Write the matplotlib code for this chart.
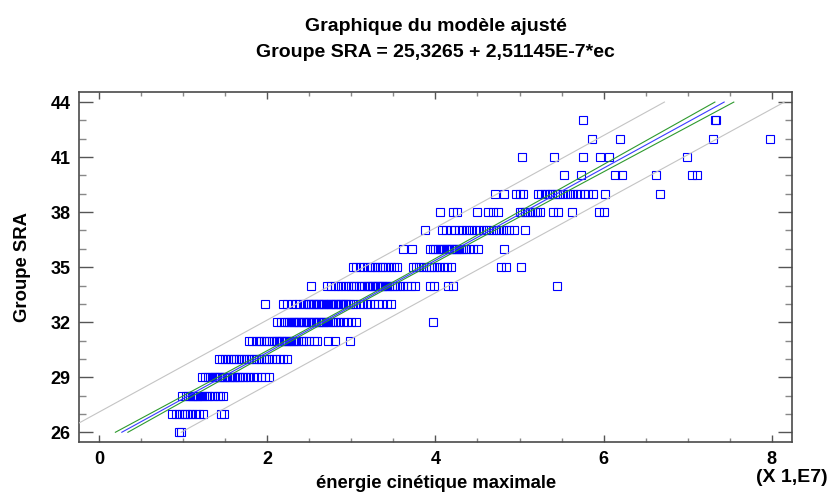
import matplotlib
matplotlib.use("Agg")
import numpy as np
import matplotlib.pyplot as plt
from matplotlib.ticker import MultipleLocator

plt.rcParams['font.family'] = ['Liberation Sans', 'DejaVu Sans']

# Fitted model (energy in J, scaled by 1e7 on the axis)
intercept = 25.3265
slope = 2.51145E-7
x_scale = 1e7

# Regression statistics used for the confidence / prediction limits
t_crit = 1.965
s_res = 0.90
n_fit = 500
x_mean = 3.02
sxx = 824.0

# Observed kinetic energy (x 1e7) for each SRA group value
energie_26 = [0.95, 0.97]
energie_27 = [0.87, 0.91, 0.95, 0.98, 1.02, 1.05, 1.08, 1.11, 1.15, 1.19, 1.24, 1.45, 1.49]
energie_28 = [0.99, 1.03, 1.06, 1.08, 1.10, 1.12, 1.14, 1.16, 1.18, 1.20, 1.22, 1.25,
              1.28, 1.31, 1.34, 1.37, 1.41, 1.44, 1.47]
energie_29 = [1.22, 1.26, 1.30, 1.32, 1.34, 1.36, 1.38, 1.40, 1.42, 1.44, 1.46, 1.48,
              1.50, 1.52, 1.54, 1.56, 1.58, 1.60, 1.62, 1.64, 1.66, 1.68, 1.71, 1.74,
              1.77, 1.80, 1.84, 1.88, 1.92, 1.97, 2.02]
energie_30 = [1.42, 1.46, 1.50, 1.53, 1.57, 1.60, 1.63, 1.66, 1.69, 1.72, 1.75, 1.78,
              1.81, 1.84, 1.87, 1.90, 1.93, 1.96, 1.99, 2.02, 2.06, 2.10, 2.15, 2.19, 2.23]
energie_31 = [1.78, 1.82, 1.86, 1.90, 1.93, 1.96, 1.99, 2.02, 2.05, 2.08, 2.10, 2.12,
              2.14, 2.16, 2.18, 2.20, 2.22, 2.24, 2.26, 2.28, 2.30, 2.32, 2.34, 2.37,
              2.40, 2.43, 2.46, 2.50, 2.55, 2.59, 2.72, 2.80, 2.98]
energie_32 = [2.12, 2.16, 2.20, 2.23, 2.26, 2.28, 2.30, 2.32, 2.34, 2.36, 2.38, 2.40,
              2.42, 2.44, 2.46, 2.48, 2.50, 2.52, 2.54, 2.56, 2.58, 2.60, 2.62, 2.64,
              2.66, 2.68, 2.70, 2.72, 2.75, 2.78, 2.81, 2.84, 2.87, 2.91, 2.95, 3.00,
              3.05, 3.97]
energie_33 = [1.97, 2.19, 2.24, 2.29, 2.34, 2.38, 2.42, 2.45, 2.48, 2.50, 2.52, 2.54,
              2.56, 2.58, 2.60, 2.62, 2.64, 2.66, 2.68, 2.70, 2.72, 2.74, 2.76, 2.78,
              2.80, 2.82, 2.84, 2.86, 2.88, 2.90, 2.92, 2.94, 2.96, 2.98, 3.02, 3.06,
              3.10, 3.14, 3.18, 3.22, 3.27, 3.32, 3.37, 3.42, 3.47]
energie_34 = [2.52, 2.71, 2.76, 2.80, 2.84, 2.88, 2.92, 2.96, 3.00, 3.03, 3.06, 3.09,
              3.12, 3.15, 3.18, 3.20, 3.22, 3.24, 3.26, 3.28, 3.30, 3.32, 3.34, 3.36,
              3.38, 3.40, 3.42, 3.45, 3.48, 3.51, 3.54, 3.58, 3.62, 3.66, 3.71, 3.76,
              3.93, 3.98, 4.15, 4.21, 5.45]
energie_35 = [3.02, 3.06, 3.10, 3.14, 3.18, 3.22, 3.25, 3.28, 3.31, 3.34, 3.37, 3.40,
              3.43, 3.47, 3.51, 3.54, 3.73, 3.77, 3.81, 3.85, 3.89, 3.92, 3.95, 3.98,
              4.02, 4.06, 4.10, 4.14, 4.18, 4.78, 4.84, 5.02]
energie_36 = [3.62, 3.72, 3.94, 3.97, 4.00, 4.03, 4.06, 4.08, 4.10, 4.12, 4.14, 4.16,
              4.18, 4.20, 4.22, 4.24, 4.26, 4.28, 4.30, 4.33, 4.36, 4.40, 4.45, 4.51, 4.81]
energie_37 = [3.87, 4.08, 4.13, 4.18, 4.23, 4.28, 4.32, 4.36, 4.40, 4.44, 4.48, 4.52,
              4.56, 4.60, 4.64, 4.68, 4.72, 4.76, 4.80, 4.84, 4.88, 4.93, 5.06]
energie_38 = [4.05, 4.21, 4.26, 4.49, 4.63, 4.68, 4.74, 5.00, 5.03, 5.06, 5.09, 5.12,
              5.15, 5.18, 5.21, 5.24, 5.40, 5.46, 5.63, 5.94, 6.01]
energie_39 = [4.71, 4.81, 4.96, 5.00, 5.04, 5.22, 5.26, 5.30, 5.33, 5.36, 5.39, 5.42,
              5.45, 5.48, 5.52, 5.56, 5.60, 5.64, 5.68, 5.72, 5.77, 5.82, 5.88, 6.02, 6.67]
energie_40 = [5.53, 5.73, 6.14, 6.22, 6.62, 7.05, 7.11]
energie_41 = [5.03, 5.41, 5.75, 5.96, 6.06, 6.99]
energie_42 = [5.86, 6.20, 7.30, 7.98]
energie_43 = [5.75, 7.33, 7.34]

groupes = list(range(26, 44))
rows = [energie_26, energie_27, energie_28, energie_29, energie_30, energie_31,
        energie_32, energie_33, energie_34, energie_35, energie_36, energie_37,
        energie_38, energie_39, energie_40, energie_41, energie_42, energie_43]

x_obs = np.concatenate([np.asarray(r, float) for r in rows])
y_obs = np.concatenate([np.full(len(r), g, float) for g, r in zip(groupes, rows)])

fig = plt.figure(figsize=(8.30, 4.94), dpi=100)
ax = fig.add_axes([79 / 830, 1 - 442.3 / 494, (792.3 - 79) / 830, (442.3 - 92.3) / 494])

x_lo, x_hi = -0.24, 8.245
y_lo, y_hi = 25.455, 44.53
ax.set_xlim(x_lo, x_hi)
ax.set_ylim(y_lo, y_hi)

ax.plot(x_obs, y_obs, linestyle='none', marker='s', markersize=6.2,
        markerfacecolor='none', markeredgecolor='#0000ff', markeredgewidth=0.8,
        zorder=2)

grid = np.linspace(x_lo, x_hi, 4000)
fit = intercept + slope * x_scale * grid
se_mean = s_res * np.sqrt(1 / n_fit + (grid - x_mean) ** 2 / sxx)
se_pred = s_res * np.sqrt(1 + 1 / n_fit + (grid - x_mean) ** 2 / sxx)


def clipped(v):
    v = v.copy()
    v[(v < 26) | (v > 44)] = np.nan
    return v


ax.plot(grid, clipped(fit + t_crit * se_pred), color='#c4c4c4', lw=0.8, zorder=3)
ax.plot(grid, clipped(fit - t_crit * se_pred), color='#c4c4c4', lw=0.8, zorder=3)
ax.plot(grid, clipped(fit + t_crit * se_mean), color='#2e9a2e', lw=0.8, zorder=3)
ax.plot(grid, clipped(fit - t_crit * se_mean), color='#2e9a2e', lw=0.8, zorder=3)
ax.plot(grid, clipped(fit), color='#3a3aff', lw=0.8, zorder=4)

# Axes frame and ticks
for sp in ax.spines.values():
    sp.set_color('#4a4a4a')
    sp.set_linewidth(1.2)

ax.xaxis.set_major_locator(MultipleLocator(2))
ax.xaxis.set_minor_locator(MultipleLocator(0.5))
ax.set_yticks(np.arange(26, 45, 3))
ax.yaxis.set_minor_locator(MultipleLocator(1))

ax.tick_params(axis='both', which='both', direction='in', top=True, right=True,
               color='#555555')
ax.tick_params(axis='y', which='major', length=10, width=1.0, pad=6)
ax.tick_params(axis='y', which='minor', length=5, width=1.0, color='#888888')
ax.tick_params(axis='x', which='major', length=5, width=1.0, pad=6.5)
ax.tick_params(axis='x', which='minor', length=3, width=1.0, color='#888888')

for lab in ax.get_xticklabels() + ax.get_yticklabels():
    lab.set_fontweight('bold')
    lab.set_fontsize(13)

ax.set_xlabel('énergie cinétique maximale', fontsize=13.3, fontweight='bold',
              labelpad=5)
ax.set_ylabel('Groupe SRA', fontsize=13.3, fontweight='bold', labelpad=14)
ax.set_title('Graphique du modèle ajusté\nGroupe SRA = 25,3265 + 2,51145E-7*ec',
             fontsize=14, fontweight='bold', linespacing=1.7, pad=25.5)

fig.text(828 / 830, 1 - 469 / 494, '(X 1,E7)', ha='right', va='top',
         fontsize=14, fontweight='bold')

fig.savefig('out.png', dpi=100)
